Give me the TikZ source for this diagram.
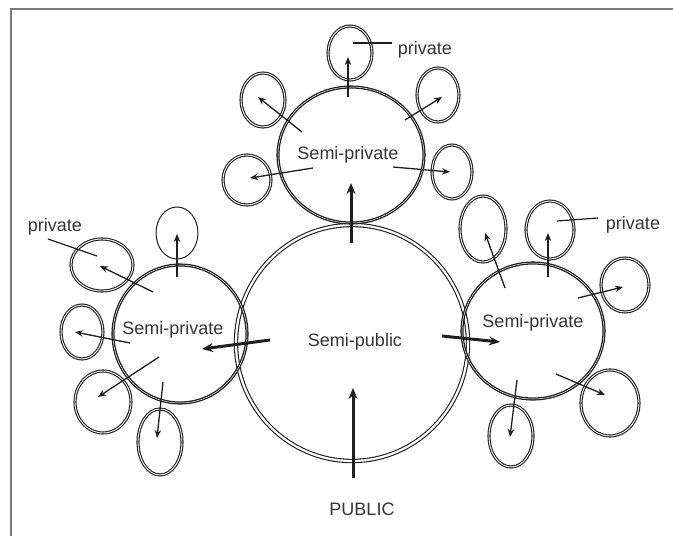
\documentclass[tikz,border=0pt]{standalone}
\usepackage{fontspec}
\setmainfont{Liberation Sans}
\usetikzlibrary{shapes.geometric,arrows.meta}
\definecolor{ink}{HTML}{1E1E1E}
\definecolor{txt}{HTML}{353535}
\definecolor{frame}{HTML}{7A7A7A}
\tikzset{
  ring/.style={ellipse, draw=ink, inner sep=0pt, outer sep=0pt},
  bigring/.style={ring, double, line width=1.1pt, double distance=2.2pt},
  midring/.style={ring, double, line width=1.3pt, double distance=0.5pt},
  smallring/.style={ring, double, line width=1.1pt, double distance=0.9pt},
  thinring/.style={ring, line width=1.0pt},
  arr/.style={draw=ink, line width=1.3pt, -{Stealth[length=8pt,width=6.5pt]}},
  bigarr/.style={draw=ink, line width=3pt, -{Stealth[length=11pt,width=9pt]}},
  tick/.style={draw=ink, line width=1.2pt},
  lbl/.style={text=txt, font=\fontsize{18}{21}\selectfont, inner sep=0pt}
}
\begin{document}
\begin{tikzpicture}[x=1pt,y=-1pt]
\useasboundingbox (0,0) rectangle (673,536);
\draw[frame, line width=2pt] (11,536) -- (11,9) -- (673,9);

% main rings
\node[bigring, minimum width=232pt, minimum height=236pt] (B) at (352,343) {};
\node[midring, minimum width=146pt, minimum height=136pt] (T) at (351,155) {};
\node[midring, minimum width=134pt, minimum height=138pt] (L) at (180,334) {};
\node[midring, minimum width=142pt, minimum height=136pt] (R) at (533,331) {};

% top cluster
\node[smallring, minimum width=44pt, minimum height=54pt] (t1) at (350,53) {};
\node[smallring, minimum width=44pt, minimum height=54pt] (t2) at (263,100) {};
\node[smallring, minimum width=42pt, minimum height=54pt] (t3) at (438,95) {};
\node[smallring, minimum width=48pt, minimum height=50pt] (t4) at (247,180) {};
\node[smallring, minimum width=40pt, minimum height=54pt] (t5) at (452,172) {};

% left cluster
\node[thinring, minimum width=42pt, minimum height=52pt] (l1) at (177,233) {};
\node[smallring, minimum width=62pt, minimum height=52pt] (l2) at (102,265) {};
\node[smallring, minimum width=42pt, minimum height=54pt] (l3) at (82,332) {};
\node[smallring, minimum width=56pt, minimum height=62pt] (l4) at (103,402) {};
\node[smallring, minimum width=44pt, minimum height=66pt] (l5) at (160,442) {};

% right cluster
\node[smallring, minimum width=46pt, minimum height=66pt] (r1) at (483,229) {};
\node[smallring, minimum width=48pt, minimum height=58pt] (r2) at (550,230) {};
\node[smallring, minimum width=48pt, minimum height=54pt] (r3) at (625,285) {};
\node[smallring, minimum width=58pt, minimum height=66pt] (r4) at (610,403) {};
\node[smallring, minimum width=44pt, minimum height=62pt] (r5) at (511,436) {};

% labels
\node[lbl] (tT) at (348,155) {Semi-private};
\node[lbl] (tL) at (173,330) {Semi-private};
\node[lbl] (tR) at (533,323) {Semi-private};
\node[lbl] (tB) at (355,342) {Semi-public};
\node[lbl] (pub) at (362,509) {PUBLIC};
\node[lbl] (pT) at (425,50) {private};
\node[lbl] (pL) at (55,227) {private};
\node[lbl] (pR) at (633,225) {private};

% arrow end points
\coordinate (a1s) at (348,97);  \coordinate (a1e) at (348,57);
\coordinate (a2s) at (302,132); \coordinate (a2e) at (258,97);
\coordinate (a3s) at (405,120); \coordinate (a3e) at (442,97);
\coordinate (a4s) at (313,168); \coordinate (a4e) at (250,178);
\coordinate (a5s) at (393,167); \coordinate (a5e) at (450,172);
\coordinate (b1s) at (177,277); \coordinate (b1e) at (177,234);
\coordinate (b2s) at (153,292); \coordinate (b2e) at (100,266);
\coordinate (b3s) at (130,343); \coordinate (b3e) at (75,332);
\coordinate (b4s) at (159,357); \coordinate (b4e) at (98,397);
\coordinate (b5s) at (163,382); \coordinate (b5e) at (157,438);
\coordinate (c1s) at (505,288); \coordinate (c1e) at (485,233);
\coordinate (c2s) at (548,277); \coordinate (c2e) at (548,233);
\coordinate (c3s) at (578,298); \coordinate (c3e) at (623,287);
\coordinate (c4s) at (556,374); \coordinate (c4e) at (605,395);
\coordinate (c5s) at (517,380); \coordinate (c5e) at (510,437);
\coordinate (gTs) at (351,243); \coordinate (gTe) at (351,183);
\coordinate (gLs) at (270,340); \coordinate (gLe) at (202,349);
\coordinate (gRs) at (442,336); \coordinate (gRe) at (500,342);
\coordinate (gPs) at (353,478); \coordinate (gPe) at (353,388);
\coordinate (kTs) at (353,43);  \coordinate (kTe) at (392,43);
\coordinate (kLs) at (48,239);  \coordinate (kLe) at (97,256);
\coordinate (kRs) at (557,221); \coordinate (kRe) at (598,218);

% small arrows
\foreach \p in {a1,a2,a3,a4,a5,b1,b2,b3,b4,b5,c1,c2,c3,c4,c5}
  \draw[arr] (\p s) -- (\p e);
% big arrows
\foreach \p in {gT,gL,gR,gP}
  \draw[bigarr] (\p s) -- (\p e);
% label ticks
\foreach \p in {kT,kL,kR}
  \draw[tick] (\p s) -- (\p e);
\end{tikzpicture}
\end{document}
